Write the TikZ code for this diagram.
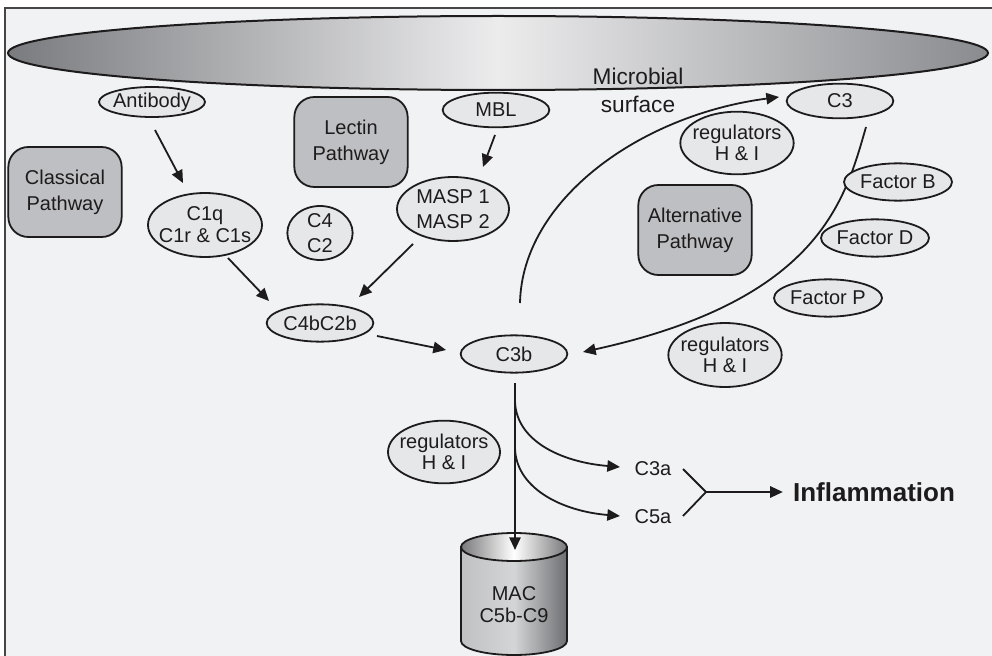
\documentclass[tikz,border=0pt]{standalone}
\usepackage{fontspec}
\setmainfont{Liberation Sans}
\usetikzlibrary{shapes.geometric,arrows.meta,calc}
\pgfdeclarelayer{bgl}
\pgfdeclarelayer{cl}
\pgfsetlayers{bgl,cl,main}
\definecolor{bg}{RGB}{241,242,244}
\definecolor{ellfill}{RGB}{230,231,233}
\definecolor{boxfill}{RGB}{190,191,194}
\definecolor{ink}{RGB}{30,27,28}
\definecolor{frame}{RGB}{70,70,72}
\begin{document}
\begin{tikzpicture}[x=0.75pt,y=-0.75pt,
  txt/.style={inner sep=0pt, align=center, text=ink, font=\fontsize{15pt}{17pt}\selectfont},
  ell/.style 2 args={ellipse, draw=ink, fill=ellfill, line width=1.35pt, inner sep=0pt, label={[txt,#1]center:#2}},
  pbox/.style={rectangle, rounded corners=15pt, draw=ink, fill=boxfill, line width=1.35pt, inner sep=2pt,
    minimum width=85pt, minimum height=67.5pt, align=center, text=ink, font=\fontsize{15pt}{19.5pt}\selectfont},
  arr/.style={draw=ink, line width=1.35pt, -{Triangle[length=9.5pt,width=8.5pt]}},
  plain/.style={draw=ink, line width=1.35pt}
]
\useasboundingbox (0,0) rectangle (992,656);

% frame and cylinder
\begin{pgfonlayer}{bgl}
  \fill[white] (0,0) rectangle (992,656);
  \fill[bg] (5,8) rectangle (992,656);
  \draw[frame, line width=1.5pt] (5,656) -- (5,8) -- (992,8);
  % MAC cylinder
  \draw[ink, line width=1.35pt, left color={rgb,255:red,192;green,193;blue,195}, right color={rgb,255:red,110;green,111;blue,114}, middle color={rgb,255:red,212;green,213;blue,215}]
    (461,547) -- (461,641) arc[start angle=180, end angle=360, x radius=39.75pt, y radius=10.5pt] -- (567,547) -- cycle;
  \draw[ink, line width=1.35pt, left color={rgb,255:red,120;green,120;blue,123}, right color={rgb,255:red,120;green,120;blue,123}, middle color=white]
    (514,547) ellipse [x radius=39.75pt, y radius=10.5pt];
\end{pgfonlayer}

% microbial surface
\node[ellipse, draw=ink, line width=1.5pt, inner sep=0pt, minimum width=735pt, minimum height=55.5pt,
  left color={rgb,255:red,122;green,123;blue,127}, right color={rgb,255:red,138;green,139;blue,143},
  middle color={rgb,255:red,236;green,236;blue,237}] (ms) at (498,53) {};
\node[txt, font=\fontsize{17pt}{20pt}\selectfont] (mic) at (638,76) {Microbial};
\node[txt, font=\fontsize{17pt}{20pt}\selectfont] (sur) at (638,104) {surface};

% pathway boxes
\node[pbox] (cls) at (65,192) {Classical\\Pathway};
\node[pbox] (lec) at (351,142) {Lectin\\Pathway};
\node[pbox] (alt) at (695,230) {Alternative\\Pathway};

% ellipses
\node[ell={}{Antibody}, minimum width=79.5pt, minimum height=22.5pt] (ab) at (152,102) {};
\node[ell={}{MBL}, minimum width=80pt, minimum height=26pt] (mbl) at (496,110) {};
\node[ell={font=\fontsize{15pt}{16.5pt}\selectfont}{C1q\\C1r \& C1s}, minimum width=85.5pt, minimum height=48pt] (c1q) at (205,225) {};
\node[ell={font=\fontsize{15pt}{19pt}\selectfont}{C4\\C2}, minimum width=49pt, minimum height=40.5pt] (c4) at (320,233) {};
\node[ell={font=\fontsize{15pt}{19pt}\selectfont}{MASP 1\\MASP 2}, minimum width=84pt, minimum height=48pt] (masp) at (453,209) {};
\node[ell={}{C4bC2b}, minimum width=80pt, minimum height=28pt] (c4b) at (320,323) {};
\node[ell={}{C3b}, minimum width=80pt, minimum height=28pt] (c3b) at (514,354) {};
\node[ell={}{C3}, minimum width=80pt, minimum height=26pt] (c3) at (840,101) {};
\node[ell={font=\fontsize{15pt}{16pt}\selectfont}{regulators\\H \& I}, minimum width=85pt, minimum height=47pt] (rega) at (737,143) {};
\node[ell={}{Factor B}, minimum width=81pt, minimum height=28pt] (fb) at (898,182) {};
\node[ell={}{Factor D}, minimum width=81pt, minimum height=28pt] (fd) at (875,238) {};
\node[ell={}{Factor P}, minimum width=81pt, minimum height=28pt] (fp) at (828,298) {};
\node[ell={font=\fontsize{15pt}{16pt}\selectfont}{regulators\\H \& I}, minimum width=85pt, minimum height=48pt] (regb) at (725,355) {};
\node[ell={font=\fontsize{15pt}{16pt}\selectfont}{regulators\\H \& I}, minimum width=84pt, minimum height=47pt] (regc) at (444,452) {};

% MAC text
\node[txt, font=\fontsize{15pt}{16.5pt}\selectfont] (mac) at (514,605) {MAC\\C5b-C9};
\coordinate (macin) at (515,550);

% products
\node[txt] (c3a) at (653,469) {C3a};
\node[txt] (c5a) at (653,517) {C5a};
\node[txt, font=\bfseries\fontsize{19.5pt}{22pt}\selectfont] (infl) at (874,492) {Inflammation};
\coordinate (j) at (706,492);

% connectors
\begin{pgfonlayer}{cl}
  \draw[arr] ($(ab)+(3,28)$) -- ($(c1q)+(-22,-42)$);
  \draw[arr] ($(mbl)+(-1,25)$) -- ($(masp)+(30,-42)$);
  \draw[arr] ($(c1q)+(23,33)$) -- ($(c4b)+(-51,-22)$);
  \draw[arr] ($(masp)+(-40,35)$) -- ($(c4b)+(39,-26)$);
  \draw[arr] ($(c4b)+(57,13)$) -- ($(c3b)+(-68,-4)$);
  \draw[arr] ($(c3b)+(6,-51)$) .. controls +(2,-103) and +(-139,18) .. ($(c3)+(-61,-4)$);
  \draw[arr] ($(c3)+(26,26)$) .. controls +(-21,73) and +(237,-52) .. ($(c3b)+(69,-2)$);
  \draw[arr] ($(c3b)+(1,29)$) -- (macin);
  \draw[arr] ($(c3b)+(1,46)$) .. controls +(0,40) and +(-60,-5) .. ($(c3a)+(-33,-2)$);
  \draw[arr] ($(c3b)+(1,93)$) .. controls +(0,40) and +(-60,-5) .. ($(c5a)+(-33,-1)$);
  \draw[plain] ($(c3a)+(30,0)$) -- (j) -- ($(c5a)+(30,-1)$);
  \draw[arr] (j) -- ($(infl.west)+(-10,0)$);
\end{pgfonlayer}
\end{tikzpicture}
\end{document}
